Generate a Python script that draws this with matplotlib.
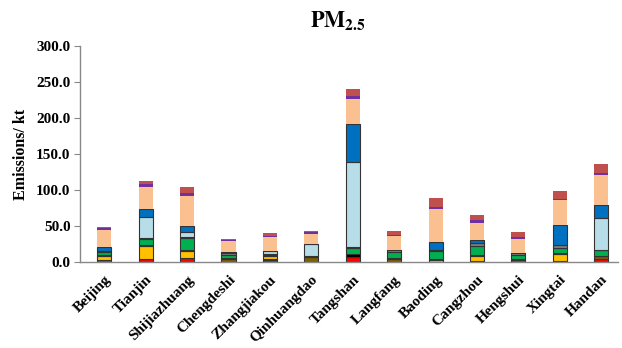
import matplotlib
matplotlib.use("Agg")
import matplotlib.pyplot as plt
import numpy as np

cities = ["Beijing", "Tianjin", "Shijiazhuang", "Chengdeshi", "Zhangjiakou",
          "Qinhuangdao", "Tangshan", "Langfang", "Baoding", "Cangzhou",
          "Hengshui", "Xingtai", "Handan"]

# segment values (kt), bottom to top
red       = [0.0, 4.6, 5.5, 0.0, 3.2, 0.0, 6.9, 0.0, 0.0, 0.0, 0.0, 0.0, 4.6]
olive     = [2.8, 0.0, 0.0, 4.6, 1.4, 6.9, 0.0, 4.6, 0.0, 1.0, 3.2, 1.4, 3.2]
yellow    = [5.5, 18.0, 9.7, 0.0, 3.2, 0.0, 0.0, 0.0, 3.2, 7.8, 0.0, 9.2, 0.0]
black     = [1.4, 1.4, 1.8, 1.0, 1.4, 0.9, 4.6, 0.9, 1.4, 1.4, 0.9, 1.8, 0.9]
green     = [4.6, 8.3, 16.6, 4.6, 0.9, 0.0, 8.3, 8.3, 10.6, 12.0, 6.0, 7.4, 7.4]
gray      = [1.4, 1.4, 1.8, 2.3, 0.9, 0.0, 0.9, 2.3, 1.8, 4.2, 2.3, 4.2, 0.9]
lightblue = [0.0, 28.6, 6.9, 1.4, 4.6, 17.5, 118.6, 0.0, 0.0, 0.0, 0.0, 0.0, 44.8]
blue      = [5.5, 11.5, 8.3, 0.0, 0.0, 0.0, 53.0, 0.0, 10.6, 3.7, 0.0, 26.8, 17.5]
peach     = [23.0, 31.0, 41.0, 15.0, 18.5, 13.8, 33.7, 20.0, 45.7, 24.5, 19.8, 35.5, 41.5]
purple    = [3.2, 3.7, 3.7, 2.3, 2.3, 2.3, 4.6, 1.8, 3.7, 3.2, 3.2, 1.4, 3.2]
indianred = [1.8, 3.7, 8.3, 1.4, 4.6, 1.4, 9.2, 4.6, 12.0, 7.8, 6.9, 10.6, 11.5]

yticks = [0, 50, 100, 150, 200, 250, 300]

series = [
    (red, "#FF0000", True),
    (olive, "#7F6000", True),
    (yellow, "#FFC000", True),
    (black, "#000000", True),
    (green, "#00B050", True),
    (gray, "#7F7F7F", True),
    (lightblue, "#B7DEE8", True),
    (blue, "#0070C0", True),
    (peach, "#FAC090", False),
    (purple, "#7030A0", False),
    (indianred, "#C0504D", False),
]

plt.rcParams['font.family'] = ['Liberation Serif', 'DejaVu Serif']

fig = plt.figure(figsize=(6.22, 3.48), dpi=100)
ax = fig.add_axes([0.129, 0.247, 0.865, 0.621])

x = np.arange(len(cities))
bottom = np.zeros(len(cities))
for vals, col, edged in series:
    v = np.array(vals)
    if edged:
        ax.bar(x, v, width=0.34, bottom=bottom, color=col,
               edgecolor="#333333", linewidth=0.8)
    else:
        ax.bar(x, v, width=0.34, bottom=bottom, color=col, linewidth=0)
    bottom += v

ax.set_xlim(-0.58, 12.41)
ax.set_ylim(0, 300)
ax.set_yticks(yticks)
ax.set_yticklabels([f"{t:.1f}" for t in yticks], fontsize=11, fontweight="bold")
ax.set_xticks(x)
ax.set_xticklabels(cities, rotation=45, ha="right", rotation_mode="anchor",
                   fontsize=11, fontweight="bold")
ax.tick_params(axis="x", length=0, pad=8)
ax.tick_params(axis="y", length=4, width=0.8, color="#888888", pad=3)
for s in ["top", "right"]:
    ax.spines[s].set_visible(False)
for s in ["left", "bottom"]:
    ax.spines[s].set_color("#888888")
    ax.spines[s].set_linewidth(1.0)
ax.set_ylabel("Emissions/ kt", fontsize=11.5, fontweight="bold", labelpad=5)
fig.text(0.543, 0.94, r"$\mathbf{PM_{2.5}}$", ha="center", va="center",
         fontsize=16, fontweight="bold", math_fontfamily="stix")

fig.savefig("out.png", dpi=100)
